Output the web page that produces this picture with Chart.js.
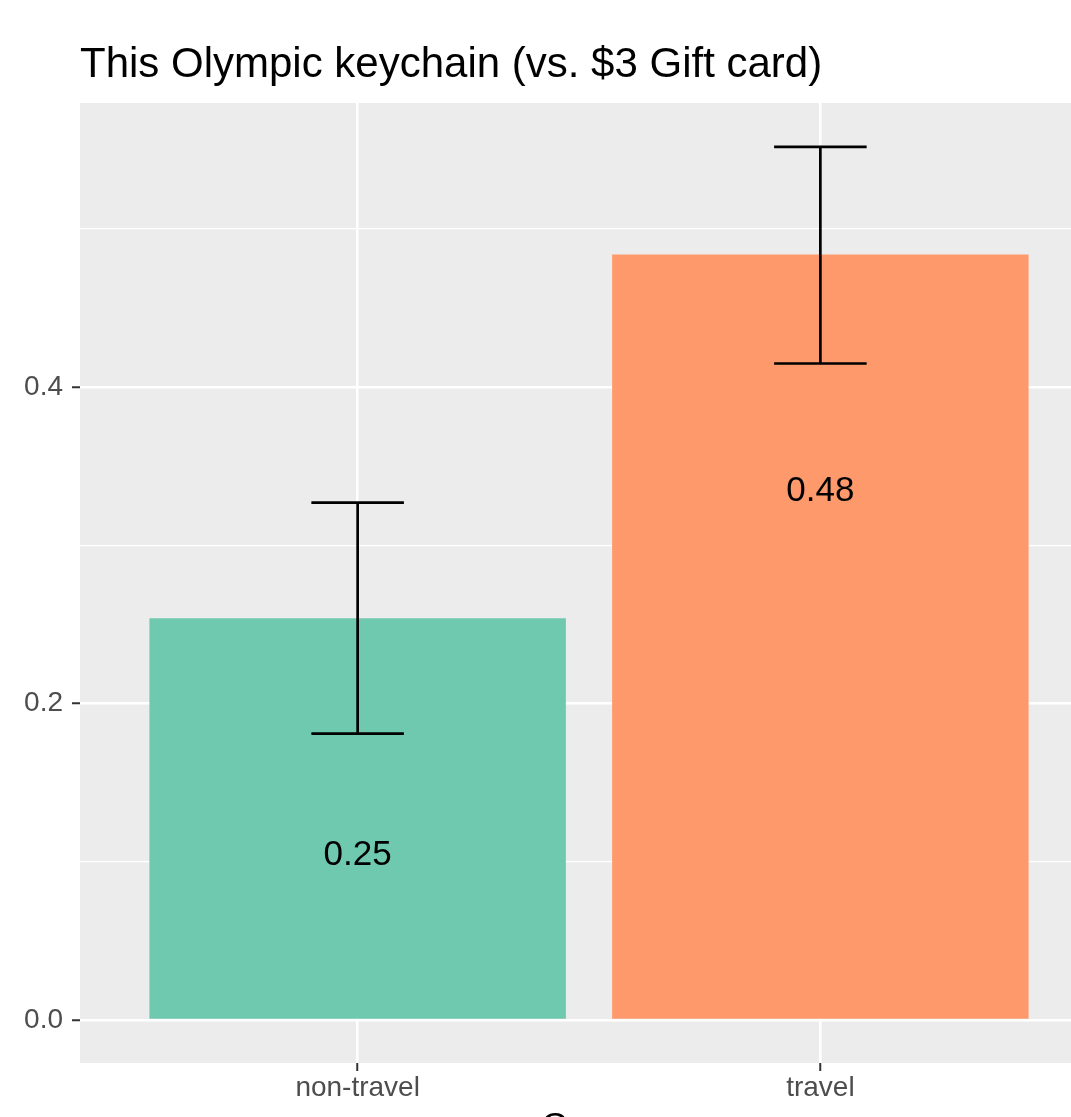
<!DOCTYPE html>
<html>
<head>
<meta charset="utf-8">
<title>This Olympic keychain (vs. $3 Gift card)</title>
<script src="https://cdn.jsdelivr.net/npm/chart.js@4.4.1/dist/chart.umd.min.js"></script>
<style>
  html, body { margin: 0; padding: 0; overflow: hidden; background: #ffffff; }
  canvas { display: block; }
</style>
</head>
<body>
<canvas id="chart" width="1098" height="1160"></canvas>
<script>
// Share of respondents choosing the keychain, by group, with error bars
const categories = ['non-travel', 'travel'];
const proportions = [0.254, 0.484];
const errLower = [0.181, 0.415];
const errUpper = [0.327, 0.552];
const barColors = ['#6FC9AF', '#FD996B'];
const yMajorTicks = [0.0, 0.2, 0.4];
const yMinorTicks = [0.1, 0.3, 0.5];
const yTickLabels = ['0.0', '0.2', '0.4'];

const FONT = "'Liberation Sans', Arial, Helvetica, sans-serif";
const labelDrop = 0.15;    // value labels sit below each bar top
const capHalf = 0.1;       // error bar cap half-width in category units

const points = categories.map((c, i) => ({ x: i + 1, y: proportions[i] }));
const yAllTicks = [...yMajorTicks, ...yMinorTicks].sort((a, b) => a - b);
const isMajor = v => yMajorTicks.some(m => Math.abs(m - v) < 1e-9);

// Grey panel behind the plotting area
const panelBg = {
  id: 'panelBg',
  beforeDraw(chart) {
    const { ctx, chartArea: a } = chart;
    ctx.save();
    ctx.fillStyle = '#ECECEC';
    ctx.fillRect(a.left, a.top, a.right - a.left, a.bottom - a.top);
    ctx.restore();
  }
};

// Error bars and value labels drawn through the chart scales
const overlays = {
  id: 'overlays',
  afterDatasetsDraw(chart) {
    const { ctx, scales: { x, y } } = chart;
    ctx.save();
    ctx.strokeStyle = '#000000';
    ctx.lineWidth = 2.7;
    ctx.lineCap = 'butt';
    categories.forEach((c, i) => {
      const cx = x.getPixelForValue(i + 1);
      const xl = x.getPixelForValue(i + 1 - capHalf);
      const xr = x.getPixelForValue(i + 1 + capHalf);
      const yl = y.getPixelForValue(errLower[i]);
      const yu = y.getPixelForValue(errUpper[i]);
      ctx.beginPath();
      ctx.moveTo(cx, yl); ctx.lineTo(cx, yu);
      ctx.moveTo(xl, yu); ctx.lineTo(xr, yu);
      ctx.moveTo(xl, yl); ctx.lineTo(xr, yl);
      ctx.stroke();
    });
    ctx.fillStyle = '#000000';
    ctx.font = '35px ' + FONT;
    ctx.textAlign = 'center';
    ctx.textBaseline = 'middle';
    categories.forEach((c, i) => {
      const cx = x.getPixelForValue(i + 1);
      const ty = y.getPixelForValue(proportions[i] - labelDrop);
      ctx.fillText(proportions[i].toFixed(2), cx, ty);
    });
    ctx.restore();
  }
};

new Chart(document.getElementById('chart'), {
  type: 'bar',
  data: {
    datasets: [{
      data: points,
      backgroundColor: barColors,
      borderWidth: 0,
      barPercentage: 0.9,
      categoryPercentage: 1.0
    }]
  },
  options: {
    responsive: false,
    devicePixelRatio: 1,
    animation: false,
    events: [],
    layout: { padding: 0 },
    plugins: {
      legend: { display: false },
      tooltip: { enabled: false },
      title: {
        display: true,
        text: 'This Olympic keychain (vs. $3 Gift card)',
        align: 'start',
        fullSize: false,
        color: '#000000',
        font: { family: FONT, size: 42, weight: 'normal', lineHeight: 1.2 },
        padding: { top: 40, bottom: 12.6 }
      }
    },
    scales: {
      x: {
        type: 'linear',
        min: 0.4,
        max: 2.6,
        offset: false,
        afterBuildTicks(axis) {
          axis.ticks = categories.map((c, i) => ({ value: i + 1 }));
        },
        afterFit(axis) { axis.height = 97; },
        ticks: {
          autoSkip: false,
          maxRotation: 0,
          padding: 0,
          color: '#4D4D4D',
          font: { family: FONT, size: 28 },
          callback: v => categories[Math.round(v) - 1] ?? ''
        },
        grid: {
          offset: false,
          color: '#FFFFFF',
          lineWidth: 2.5,
          drawTicks: true,
          tickLength: 8,
          tickColor: '#333333',
          tickWidth: 2
        },
        border: { display: false },
        title: {
          display: true,
          text: 'Group',
          color: '#000000',
          font: { family: FONT, size: 34 },
          padding: { top: 0, bottom: 13 }
        }
      },
      y: {
        type: 'linear',
        min: -0.0272,
        max: 0.5797,
        afterBuildTicks(axis) {
          axis.ticks = yAllTicks.map(v => ({ value: v }));
        },
        afterFit(axis) { axis.width = 80; },
        ticks: {
          autoSkip: false,
          padding: 9,
          color: '#4D4D4D',
          font: { family: FONT, size: 28 },
          callback: v => {
            const k = yMajorTicks.findIndex(m => Math.abs(m - v) < 1e-9);
            return k >= 0 ? yTickLabels[k] : '';
          }
        },
        grid: {
          color: '#FFFFFF',
          lineWidth: ctx => (ctx.tick && isMajor(ctx.tick.value)) ? 2.5 : 1.2,
          drawTicks: true,
          tickLength: 8,
          tickColor: ctx => (ctx.tick && isMajor(ctx.tick.value)) ? '#333333' : 'rgba(0,0,0,0)',
          tickWidth: 2
        },
        border: { display: false }
      }
    }
  },
  plugins: [panelBg, overlays]
});
</script>
</body>
</html>
